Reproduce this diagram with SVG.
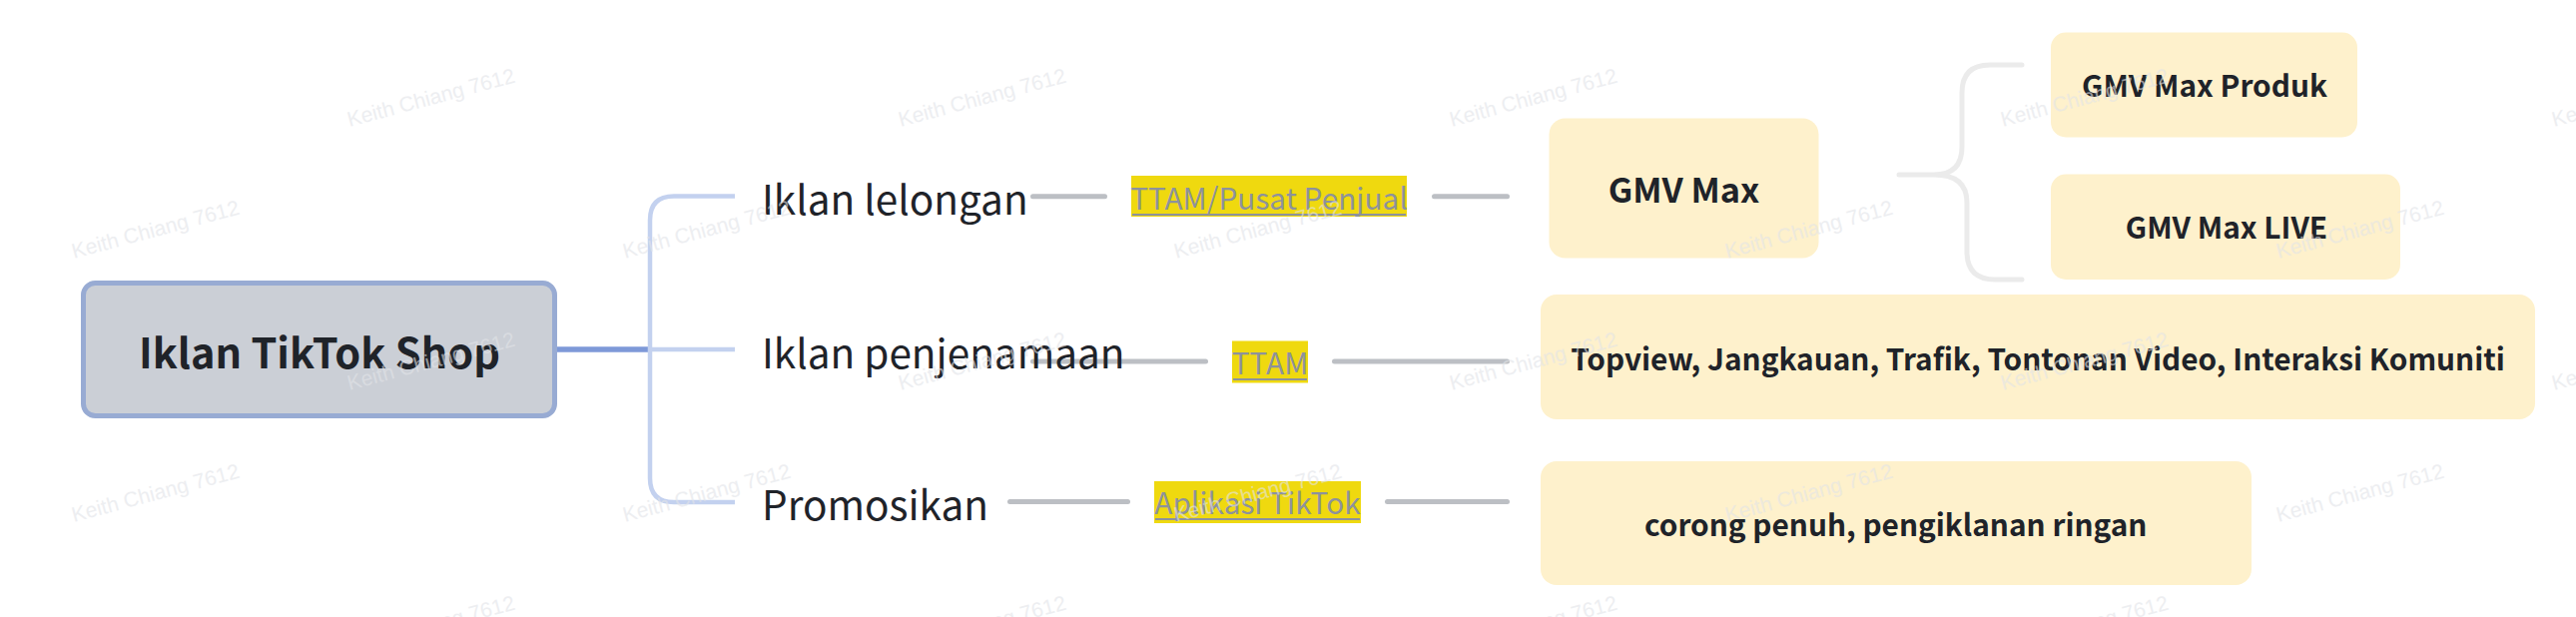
<svg xmlns="http://www.w3.org/2000/svg" xmlns:xlink="http://www.w3.org/1999/xlink" width="2580" height="618" viewBox="0 0 2580 618">
<style>
.t{font-family:"Noto Sans CJK SC","Noto Sans",sans-serif;fill:#1f2329}
.b{font-weight:bold}
.lab{font-family:"Noto Sans CJK SC","Noto Sans",sans-serif;font-size:29.8px;fill:#8d929b}
.box{fill:#fef1cc}
.lbg{fill:#efd90f}
.ul{stroke:#8d929b;stroke-width:2}
.gc{stroke:#bcbfc4;stroke-width:5;stroke-linecap:round;fill:none}
.wm{font-family:"Liberation Sans",Arial,sans-serif;font-size:21px;fill:#e2e4e8;opacity:0.6}
</style>
<defs>
<text id="wm" class="wm" x="0" y="0" transform="rotate(-15)">Keith Chiang 7612</text>
</defs>
<rect width="2580" height="618" fill="#ffffff"/>
<g id="connectors">
<line x1="558" y1="350" x2="651" y2="350" stroke="#7e99d8" stroke-width="5.5"/>
<path d="M736,196.5 H675 Q651,196.5 651,220.5 V479 Q651,503 675,503 H736 M651,350 H736" fill="none" stroke="#c3d1ef" stroke-width="4.5"/>
<line class="gc" x1="1034.5" y1="196.7" x2="1106.5" y2="196.7"/>
<line class="gc" x1="1436.5" y1="196.7" x2="1509.5" y2="196.7"/>
<line class="gc" x1="1034.5" y1="362" x2="1207.5" y2="362"/>
<line class="gc" x1="1336.5" y1="362" x2="1509.5" y2="362"/>
<line class="gc" x1="1011.5" y1="502.5" x2="1129.5" y2="502.5"/>
<line class="gc" x1="1389.5" y1="502.5" x2="1509.5" y2="502.5"/>
<path d="M2025,65 H1993 Q1965,65 1965,93 V147 Q1965,175 1937,175 H1902 M1937,175 Q1970,175 1970,203 V252 Q1970,280 1998,280 H2025" fill="none" stroke="#ebebeb" stroke-width="5" stroke-linecap="round"/>
</g>
<g id="root">
<rect x="83.5" y="283.5" width="472" height="133" rx="12" fill="#cbcfd6" stroke="#98abd3" stroke-width="5"/>
<text class="t b" x="320" y="368.5" font-size="41.5" text-anchor="middle">Iklan TikTok Shop</text>
</g>
<g id="branch-lelongan">
<text class="t" x="763" y="215" font-size="40.5">Iklan lelongan</text>
</g>
<g id="branch-penjenamaan">
<text class="t" x="763" y="368.5" font-size="40.5">Iklan penjenamaan</text>
</g>
<g id="branch-promosikan">
<text class="t" x="763" y="521" font-size="40.5">Promosikan</text>
</g>
<g id="label-ttam-pusat">
<rect class="lbg" x="1133" y="176" width="276" height="41"/>
<text class="lab" x="1271" y="210" text-anchor="middle">TTAM/Pusat Penjual</text>
<line class="ul" x1="1134" y1="215" x2="1408" y2="215"/>
</g>
<g id="label-ttam">
<rect class="lbg" x="1234" y="341.5" width="76" height="42"/>
<text class="lab" x="1272" y="375" text-anchor="middle">TTAM</text>
<line class="ul" x1="1235" y1="380" x2="1309" y2="380"/>
</g>
<g id="label-aplikasi">
<rect class="lbg" x="1156" y="482" width="207" height="42"/>
<text class="lab" x="1259.5" y="515" text-anchor="middle">Aplikasi TikTok</text>
<line class="ul" x1="1157" y1="520" x2="1362" y2="520"/>
</g>
<g id="gmv-max">
<rect class="box" x="1551.5" y="118.5" width="270" height="140" rx="16"/>
<text class="t b" x="1686.5" y="203.3" font-size="34.3" text-anchor="middle">GMV Max</text>
</g>
<g id="gmv-max-produk">
<rect class="box" x="2054" y="32.5" width="307" height="105" rx="15"/>
<text class="t b" x="2208" y="97.3" font-size="29.8" text-anchor="middle">GMV Max Produk</text>
</g>
<g id="gmv-max-live">
<rect class="box" x="2054" y="174.5" width="350" height="105.5" rx="15"/>
<text class="t b" x="2230" y="239.3" font-size="29.8" text-anchor="middle">GMV Max LIVE</text>
</g>
<g id="topview">
<rect class="box" x="1543" y="295" width="996" height="125" rx="16"/>
<text class="t b" x="2041" y="370.7" font-size="29.8" text-anchor="middle">Topview, Jangkauan, Trafik, Tontonan Video, Interaksi Komuniti</text>
</g>
<g id="corong">
<rect class="box" x="1543" y="462" width="712" height="124" rx="16"/>
<text class="t b" x="1898.7" y="536.7" font-size="29.8" text-anchor="middle">corong penuh, pengiklanan ringan</text>
</g>
<g id="watermarks">
<use xlink:href="#wm" x="350" y="127"/>
<use xlink:href="#wm" x="902" y="127"/>
<use xlink:href="#wm" x="1454" y="127"/>
<use xlink:href="#wm" x="2006" y="127"/>
<use xlink:href="#wm" x="2558" y="127"/>
<use xlink:href="#wm" x="74" y="259"/>
<use xlink:href="#wm" x="626" y="259"/>
<use xlink:href="#wm" x="1178" y="259"/>
<use xlink:href="#wm" x="1730" y="259"/>
<use xlink:href="#wm" x="2282" y="259"/>
<use xlink:href="#wm" x="350" y="391"/>
<use xlink:href="#wm" x="902" y="391"/>
<use xlink:href="#wm" x="1454" y="391"/>
<use xlink:href="#wm" x="2006" y="391"/>
<use xlink:href="#wm" x="2558" y="391"/>
<use xlink:href="#wm" x="74" y="523"/>
<use xlink:href="#wm" x="626" y="523"/>
<use xlink:href="#wm" x="1178" y="523"/>
<use xlink:href="#wm" x="1730" y="523"/>
<use xlink:href="#wm" x="2282" y="523"/>
<use xlink:href="#wm" x="350" y="655"/>
<use xlink:href="#wm" x="902" y="655"/>
<use xlink:href="#wm" x="1454" y="655"/>
<use xlink:href="#wm" x="2006" y="655"/>
<use xlink:href="#wm" x="2558" y="655"/>
</g>
</svg>
